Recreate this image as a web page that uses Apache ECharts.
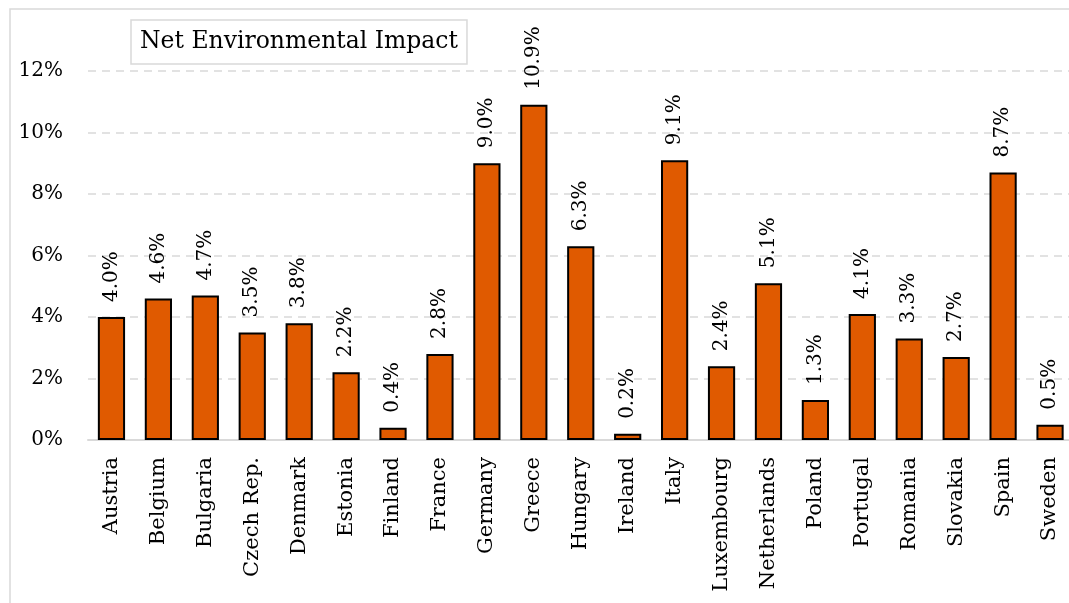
<!DOCTYPE html>
<html>
<head>
<meta charset="utf-8">
<script src="https://cdn.jsdelivr.net/npm/echarts@6/dist/echarts.min.js"></script>
<style>
  html, body { margin: 0; padding: 0; background: #fff; overflow: hidden; }
  #impact-chart { width: 1080px; height: 603px; }
</style>
</head>
<body>
<div id="impact-chart"></div>
<script>
const countries = ['Austria', 'Belgium', 'Bulgaria', 'Czech Rep.', 'Denmark', 'Estonia', 'Finland',
  'France', 'Germany', 'Greece', 'Hungary', 'Ireland', 'Italy', 'Luxembourg', 'Netherlands',
  'Poland', 'Portugal', 'Romania', 'Slovakia', 'Spain', 'Sweden'];
const netImpact = [4.0, 4.6, 4.7, 3.5, 3.8, 2.2, 0.4, 2.8, 9.0, 10.9, 6.3, 0.2, 9.1, 2.4, 5.1,
  1.3, 4.1, 3.3, 2.7, 8.7, 0.5];
const yTicks = [0, 2, 4, 6, 8, 10, 12];

const font = 'DejaVu Serif';
const chart = echarts.init(document.getElementById('impact-chart'));
chart.setOption({
  textStyle: { fontFamily: font },
  graphic: [{
    type: 'rect',
    shape: { x: 10, y: 9, width: 1200, height: 700 },
    style: { fill: 'none', stroke: '#d9d9d9', lineWidth: 1.5 },
    silent: true
  }],
  legend: {
    left: 131,
    top: 20,
    icon: 'none',
    itemWidth: 0,
    itemHeight: 0,
    borderColor: '#d9d9d9',
    borderWidth: 1.5,
    padding: [10, 9, 10, 4],
    textStyle: { fontFamily: font, fontSize: 23.5, color: '#000' },
    data: ['Net Environmental Impact']
  },
  grid: { left: 88, right: 6.5, top: 71, bottom: 163 },
  xAxis: {
    type: 'category',
    data: countries,
    axisLine: { lineStyle: { color: '#d9d9d9', width: 2 } },
    axisTick: { show: false },
    axisLabel: { rotate: 90, margin: 17, interval: 0, fontFamily: font, fontSize: 21, color: '#000' }
  },
  yAxis: {
    type: 'value',
    min: yTicks[0],
    max: yTicks[yTicks.length - 1],
    interval: 2,
    axisLine: { show: false },
    axisTick: { show: false },
    splitLine: { lineStyle: { color: '#d9d9d9', type: [8, 6], width: 1.5 } },
    axisLabel: { margin: 25, fontFamily: font, fontSize: 20, color: '#000', formatter: v => v + '%' }
  },
  series: [{
    name: 'Net Environmental Impact',
    type: 'bar',
    data: netImpact,
    barWidth: '58%',
    itemStyle: { color: '#e05a00', borderColor: '#000', borderWidth: 2 },
    label: {
      show: true,
      position: 'top',
      rotate: 90,
      align: 'left',
      verticalAlign: 'middle',
      distance: 15,
      fontFamily: font,
      fontSize: 20,
      color: '#000',
      formatter: p => p.value.toFixed(1) + '%'
    }
  }]
});
</script>
</body>
</html>
